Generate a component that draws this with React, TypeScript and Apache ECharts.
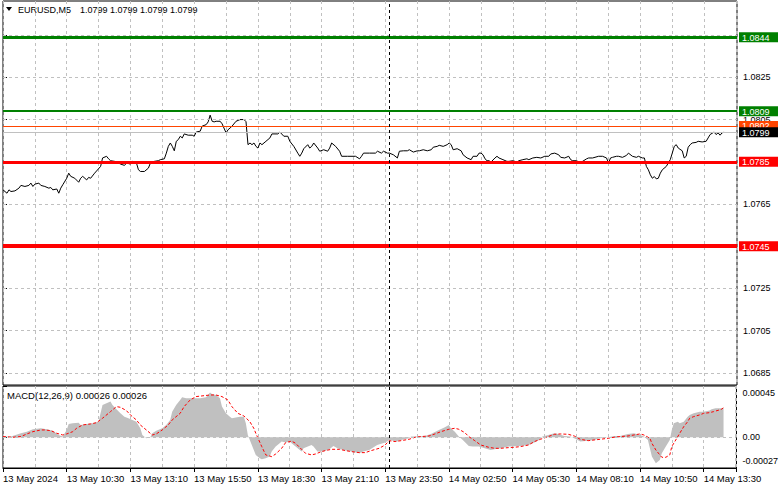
import React, { useEffect, useRef } from 'react';
import * as echarts from 'echarts';

const symbolName = 'EURUSD,M5';
const lastQuote = [1.0799, 1.0799, 1.0799, 1.0799];
const macdName = 'MACD(12,26,9)';
const macdLast = [0.00026, 0.00026];

const timeLabels = ['13 May 2024', '13 May 10:30', '13 May 13:10', '13 May 15:50', '13 May 18:30', '13 May 21:10', '13 May 23:50', '14 May 02:50', '14 May 05:30', '14 May 08:10', '14 May 10:50', '14 May 13:30'];
const barsPerLabel = 32;
const barsPerGrid = 16;
const daySeparatorBar = 194;

const priceTicks = [1.0685, 1.0705, 1.0725, 1.0745, 1.0765, 1.0785, 1.0805, 1.0825, 1.0845];
const priceTickLabels = [1.0685, 1.0705, 1.0725, 1.0765, 1.0805, 1.0825];
const levelValues = [1.0844, 1.0809, 1.0802, 1.0799, 1.0785, 1.0745];
const macdTicks = [0.00045, 0, -0.00027];

const priceBar = [0, 2, 3, 4, 6, 8, 9, 11, 13, 14, 15, 16, 18, 19, 21, 23, 24, 25, 27, 28, 29, 30, 32, 33, 34, 36, 38, 39, 40, 42, 43, 44, 46, 49, 50, 52, 53, 54, 56, 58, 59, 61, 62, 64, 65, 67, 68, 69, 71, 73, 74, 76, 78, 79, 81, 82, 83, 84, 85, 86, 87, 88, 89, 90, 91, 93, 95, 96, 97, 99, 100, 102, 103, 104, 105, 106, 107, 109, 110, 112, 113, 114, 115, 117, 119, 121, 122, 123, 124, 125, 126, 127, 128, 129, 130, 132, 134, 135, 138, 139, 141, 143, 144, 146, 148, 149, 150, 151, 153, 154, 155, 156, 158, 159, 161, 163, 164, 165, 167, 169, 170, 173, 177, 179, 180, 181, 184, 187, 188, 190, 191, 193, 194, 196, 198, 199, 201, 203, 204, 206, 208, 209, 211, 213, 215, 216, 218, 219, 221, 223, 224, 225, 226, 228, 230, 231, 233, 235, 236, 238, 239, 240, 241, 242, 243, 244, 245, 247, 248, 249, 251, 253, 254, 256, 258, 259, 261, 263, 264, 266, 268, 270, 272, 274, 275, 277, 279, 280, 282, 284, 285, 286, 288, 289, 291, 293, 294, 296, 299, 301, 303, 304, 305, 306, 308, 309, 311, 313, 314, 316, 318, 319, 321, 322, 323, 324, 325, 326, 327, 328, 329, 330, 331, 333, 334, 335, 336, 337, 338, 339, 341, 342, 343, 344, 345, 346, 348, 349, 351, 353, 354, 355, 357, 358, 359, 360, 361, 362];
const priceClose = [1.07717, 1.07701, 1.07717, 1.07709, 1.07712, 1.07725, 1.07738, 1.07733, 1.07738, 1.07749, 1.07733, 1.07744, 1.07749, 1.07738, 1.07733, 1.07725, 1.07728, 1.07717, 1.07721, 1.07701, 1.07725, 1.07741, 1.07772, 1.07796, 1.07781, 1.07772, 1.07753, 1.07772, 1.07781, 1.07764, 1.07776, 1.07772, 1.07796, 1.07828, 1.07868, 1.07876, 1.07864, 1.07855, 1.07852, 1.07844, 1.07839, 1.07833, 1.07844, 1.07839, 1.07852, 1.07844, 1.07812, 1.07804, 1.07804, 1.0782, 1.07844, 1.07852, 1.07855, 1.0786, 1.07864, 1.07891, 1.07923, 1.07939, 1.07923, 1.07902, 1.07947, 1.07955, 1.07971, 1.07963, 1.07982, 1.07976, 1.07976, 1.07971, 1.07991, 1.07995, 1.08019, 1.08026, 1.08039, 1.08071, 1.08042, 1.08039, 1.08042, 1.08042, 1.0803, 1.07987, 1.08002, 1.0801, 1.08019, 1.08042, 1.0805, 1.0805, 1.0804, 1.07931, 1.07939, 1.07931, 1.07939, 1.07923, 1.07915, 1.07939, 1.07931, 1.07947, 1.07963, 1.07982, 1.07982, 1.07991, 1.07971, 1.07971, 1.07947, 1.07923, 1.07891, 1.07876, 1.07891, 1.07912, 1.07931, 1.07915, 1.07923, 1.07939, 1.07915, 1.079, 1.07907, 1.079, 1.07915, 1.07939, 1.07923, 1.079, 1.07876, 1.07876, 1.07876, 1.07864, 1.07876, 1.07891, 1.07891, 1.07891, 1.079, 1.07891, 1.079, 1.07891, 1.07891, 1.07883, 1.07868, 1.079, 1.07902, 1.07902, 1.07907, 1.07896, 1.07902, 1.07902, 1.07907, 1.07902, 1.07907, 1.07919, 1.07923, 1.07928, 1.07923, 1.07931, 1.07939, 1.07931, 1.07907, 1.07912, 1.07902, 1.07883, 1.07868, 1.0786, 1.07876, 1.07876, 1.07891, 1.07891, 1.07883, 1.07864, 1.07855, 1.07855, 1.07849, 1.07868, 1.07876, 1.07868, 1.0786, 1.07852, 1.07852, 1.07855, 1.07849, 1.07855, 1.0786, 1.07864, 1.0786, 1.07868, 1.07871, 1.07868, 1.07876, 1.07876, 1.07887, 1.07891, 1.07883, 1.07871, 1.07868, 1.07876, 1.0786, 1.07855, 1.07855, 1.07849, 1.07852, 1.07864, 1.07868, 1.07868, 1.07876, 1.07876, 1.07868, 1.07844, 1.07868, 1.07871, 1.07876, 1.07876, 1.07871, 1.0788, 1.07891, 1.07876, 1.07871, 1.07876, 1.07868, 1.07868, 1.07828, 1.07812, 1.07788, 1.07772, 1.0778, 1.07769, 1.07772, 1.07796, 1.07812, 1.07828, 1.07844, 1.0786, 1.07891, 1.07923, 1.07931, 1.07915, 1.07902, 1.07868, 1.07876, 1.07919, 1.07931, 1.07939, 1.07942, 1.07947, 1.07944, 1.07947, 1.07963, 1.07979, 1.07991, 1.07979, 1.07987, 1.07976, 1.07987, 1.0799];

const histBar = [0, 4, 9, 12, 15, 19, 22, 25, 28, 30, 32, 33, 35, 38, 39, 42, 45, 48, 49, 50, 52, 54, 55, 57, 59, 61, 63, 65, 67, 69, 70, 72, 74, 75, 77, 80, 82, 84, 85, 87, 89, 90, 92, 99, 102, 104, 105, 107, 109, 110, 112, 114, 115, 119, 121, 122, 123, 124, 125, 127, 129, 130, 132, 134, 135, 137, 139, 140, 142, 144, 145, 147, 150, 151, 155, 156, 158, 161, 164, 166, 168, 171, 175, 179, 181, 184, 188, 192, 194, 198, 200, 204, 205, 209, 212, 215, 219, 222, 224, 225, 227, 229, 231, 234, 236, 239, 242, 245, 247, 250, 254, 260, 264, 267, 270, 271, 274, 277, 279, 282, 285, 288, 290, 294, 297, 300, 304, 307, 310, 314, 317, 320, 322, 324, 325, 326, 328, 330, 331, 333, 335, 336, 337, 339, 340, 342, 344, 345, 347, 350, 352, 355, 356, 358, 361, 362];
const histValue = [0.6e-5, 0.6e-5, 3.5e-5, 4.9e-5, 7.0e-5, 7.9e-5, 7.0e-5, 5.8e-5, 2.0e-5, 0.6e-5, 6.4e-5, 11.7e-5, 12.3e-5, 12.8e-5, 10.8e-5, 11.7e-5, 12.3e-5, 13.7e-5, 21.0e-5, 28.4e-5, 29.8e-5, 31.3e-5, 28.4e-5, 24.6e-5, 21.0e-5, 18.1e-5, 16.7e-5, 15.2e-5, 13.7e-5, 7.9e-5, 2.0e-5, -0.9e-5, 0, 3.5e-5, 5.8e-5, 7.9e-5, 10.8e-5, 15.2e-5, 22.5e-5, 28.4e-5, 32.7e-5, 35.1e-5, 34.2e-5, 34.2e-5, 35.1e-5, 39.2e-5, 38.0e-5, 37.1e-5, 34.2e-5, 26.9e-5, 21.0e-5, 18.1e-5, 16.7e-5, 18.1e-5, 18.1e-5, 12.3e-5, 2.0e-5, -2.4e-5, -6.8e-5, -15.5e-5, -18.5e-5, -19.3e-5, -18.5e-5, -17.0e-5, -12.6e-5, -8.2e-5, -5.3e-5, -3.8e-5, -4.7e-5, -3.8e-5, -5.3e-5, -8.2e-5, -12.6e-5, -9.7e-5, -6.8e-5, -8.2e-5, -12.6e-5, -12.6e-5, -10.6e-5, -7.6e-5, -9.7e-5, -11.2e-5, -12.6e-5, -14.1e-5, -12.6e-5, -11.2e-5, -6.8e-5, -4.7e-5, -2.4e-5, -3.8e-5, -2.4e-5, -0.9e-5, 0.6e-5, 0.6e-5, 1.1e-5, 2.9e-5, 6.4e-5, 8.8e-5, 10.8e-5, 7.9e-5, 4.9e-5, 0.6e-5, -2.4e-5, -7.6e-5, -8.2e-5, -8.2e-5, -9.7e-5, -11.2e-5, -10.6e-5, -9.7e-5, -8.2e-5, -7.6e-5, -6.8e-5, -4.7e-5, -1.8e-5, 0.6e-5, 2.0e-5, 3.5e-5, 2.9e-5, 1.1e-5, 0.6e-5, -1.8e-5, -3.8e-5, -3.0e-5, -2.4e-5, -0.9e-5, 0, 1.1e-5, 1.1e-5, 2.9e-5, 3.5e-5, 2.0e-5, 0.6e-5, -2.4e-5, -9.7e-5, -17.0e-5, -22.9e-5, -19.9e-5, -14.1e-5, -8.2e-5, -2.4e-5, 6.4e-5, 12.3e-5, 13.7e-5, 12.3e-5, 13.7e-5, 18.1e-5, 19.6e-5, 21.0e-5, 22.5e-5, 22.5e-5, 23.4e-5, 24.6e-5, 25.4e-5, 25.4e-5, 26.0e-5];

const signalBar = [0, 5, 9, 12, 15, 19, 21, 24, 27, 30, 32, 35, 37, 40, 44, 47, 50, 54, 57, 59, 62, 64, 67, 69, 72, 75, 77, 80, 83, 85, 89, 91, 94, 97, 100, 104, 107, 110, 113, 115, 118, 121, 124, 126, 127, 130, 132, 135, 137, 140, 142, 145, 147, 150, 152, 155, 157, 160, 162, 165, 169, 172, 175, 179, 182, 185, 189, 192, 194, 197, 200, 204, 207, 210, 214, 217, 220, 224, 227, 229, 232, 234, 237, 240, 244, 247, 250, 254, 257, 260, 264, 267, 270, 274, 277, 280, 284, 287, 290, 294, 297, 300, 304, 307, 310, 314, 317, 320, 322, 325, 326, 328, 330, 331, 333, 335, 336, 338, 340, 342, 344, 345, 347, 350, 352, 355, 357, 360, 361, 362];
const signalValue = [0.6e-5, 0, 0.6e-5, 2.9e-5, 4.9e-5, 6.4e-5, 6.4e-5, 5.8e-5, 3.5e-5, 2.0e-5, 2.9e-5, 4.9e-5, 7.9e-5, 10.8e-5, 11.7e-5, 12.8e-5, 16.7e-5, 22.5e-5, 26.9e-5, 26.3e-5, 23.4e-5, 19.6e-5, 15.2e-5, 10.8e-5, 6.4e-5, 2.0e-5, 2.9e-5, 6.4e-5, 10.8e-5, 15.2e-5, 21.0e-5, 26.9e-5, 32.7e-5, 35.7e-5, 36.3e-5, 37.1e-5, 37.1e-5, 35.7e-5, 32.7e-5, 26.9e-5, 21.0e-5, 18.7e-5, 13.7e-5, 7.9e-5, 3.5e-5, -8.2e-5, -15.5e-5, -17.0e-5, -14.7e-5, -9.7e-5, -4.7e-5, -3.4e-5, -5.3e-5, -10.6e-5, -14.1e-5, -15.5e-5, -14.7e-5, -12.6e-5, -11.7e-5, -10.6e-5, -10.6e-5, -11.7e-5, -12.6e-5, -13.5e-5, -13.5e-5, -11.7e-5, -9.7e-5, -6.8e-5, -3.0e-5, -3.8e-5, -3.0e-5, -1.8e-5, 0, 0.6e-5, 1.1e-5, 2.9e-5, 4.9e-5, 7.0e-5, 7.9e-5, 7.0e-5, 4.1e-5, 0.6e-5, -3.0e-5, -6.8e-5, -8.8e-5, -9.7e-5, -9.7e-5, -9.1e-5, -8.8e-5, -8.2e-5, -6.8e-5, -3.8e-5, -1.8e-5, 0.6e-5, 2.6e-5, 2.9e-5, 2.6e-5, 1.1e-5, -1.8e-5, -3.0e-5, -2.4e-5, -1.8e-5, -0.9e-5, 0, 0.6e-5, 1.1e-5, 2.0e-5, 2.9e-5, 2.0e-5, -0.9e-5, -5.3e-5, -11.2e-5, -15.5e-5, -17.6e-5, -17.6e-5, -15.5e-5, -8.2e-5, -2.4e-5, 3.5e-5, 9.3e-5, 13.7e-5, 16.7e-5, 18.1e-5, 19.6e-5, 21.0e-5, 21.6e-5, 22.5e-5, 24.0e-5, 24.6e-5, 26.0e-5];

const FONT = "'Liberation Sans', Arial, sans-serif";
const FS = 9.5;
const FS_NUM = 9;
const X_MAX = 368.5;
const PRICE_MIN = 1.06792;
const PRICE_MAX = 1.08612;
const MACD_MIN = -0.00027;
const MACD_MAX = 0.00045;

const levelStyles = [
  { line: '#008000', width: 3, box: '#008000', text: '#ffffff' },
  { line: '#008000', width: 2, box: '#008000', text: '#ffffff' },
  { line: '#ff4500', width: 1, box: '#ff4500', text: '#ffffff' },
  { line: '#c0c0c0', width: 1, box: '#000000', text: '#ffffff' },
  { line: '#ff0000', width: 3, box: '#ff0000', text: '#ffffff' },
  { line: '#ff0000', width: 4, box: '#ff0000', text: '#ffffff' },
];

const gridDash = { color: '#c0c0c0', type: [3, 3] as number[], width: 1 };

function levelIndex(v: number) {
  return levelValues.findIndex((l) => Math.abs(l - v) < 1e-7);
}

export default function App() {
  const ref = useRef<HTMLDivElement>(null);
  useEffect(() => {
    if (!ref.current) return;
    const chart = echarts.init(ref.current, undefined, { renderer: 'svg' });

    const rich: Record<string, any> = {};
    levelStyles.forEach((s, i) => {
      rich['l' + i] = {
        backgroundColor: s.box,
        color: s.text,
        fontSize: FS_NUM,
        fontFamily: FONT,
        lineHeight: 10,
        width: 36,
        padding: [1, 0, 0, 3],
      };
    });

    const macdFormat = (v: number) => {
      if (Math.abs(v) < 1e-12) return '0.00';
      const txt = v.toFixed(5);
      if (v > 0) return '{t|' + txt + '}';
      return '{b|' + txt + '}';
    };

    const xSplitAxis = (gridIndex: number) => ({
      gridIndex,
      type: 'value',
      min: 0,
      max: X_MAX,
      interval: barsPerGrid,
      position: 'bottom',
      axisLine: { show: false, onZero: false },
      axisTick: { show: false },
      axisLabel: { show: false },
      splitLine: { show: true, lineStyle: gridDash },
    });

    const quoteTexts = lastQuote.map((v, i) => ({
      type: 'text',
      left: 80 + i * 30,
      top: 5,
      style: { text: v.toFixed(4), fill: '#000', fontSize: FS_NUM, fontFamily: FONT },
    }));

    const option: any = {
      animation: false,
      backgroundColor: '#ffffff',
      textStyle: { fontFamily: FONT, fontSize: FS },
      grid: [
        { left: 3, top: 1, width: 737, height: 384, show: true, borderColor: '#000', borderWidth: 1, backgroundColor: '#fff' },
        { left: 3, top: 386, width: 737, height: 82, show: true, borderColor: '#000', borderWidth: 1, backgroundColor: '#fff' },
      ],
      xAxis: [
        xSplitAxis(0),
        xSplitAxis(1),
        {
          gridIndex: 1,
          type: 'value',
          min: 0,
          max: X_MAX,
          interval: barsPerLabel,
          position: 'bottom',
          axisLine: { show: true, onZero: false, lineStyle: { color: '#000', width: 1 } },
          axisTick: { show: true, length: 4, lineStyle: { color: '#000' } },
          axisLabel: {
            show: true,
            align: 'left',
            margin: 5,
            color: '#000',
            fontSize: FS,
            fontFamily: FONT,
            hideOverlap: false,
            formatter: (v: number) => {
              const k = v / barsPerLabel;
              return Number.isInteger(k) && timeLabels[k] ? timeLabels[k] : '';
            },
          },
          splitLine: { show: false },
        },
      ],
      yAxis: [
        {
          gridIndex: 0,
          type: 'value',
          position: 'right',
          min: PRICE_MIN,
          max: PRICE_MAX,
          axisLine: { show: false },
          axisTick: { show: true, customValues: priceTicks, length: 4, lineStyle: { color: '#000' } },
          axisLabel: {
            customValues: priceTickLabels,
            margin: 6,
            color: '#000',
            fontSize: FS_NUM,
            fontFamily: FONT,
            formatter: (v: number) => v.toFixed(4),
          },
          splitLine: { show: false },
        },
        {
          gridIndex: 0,
          type: 'value',
          position: 'right',
          min: PRICE_MIN,
          max: PRICE_MAX,
          axisLine: { show: false },
          axisTick: { show: false },
          axisLabel: {
            customValues: levelValues,
            margin: 2,
            rich,
            formatter: (v: number) => {
              const i = levelIndex(v);
              return i >= 0 ? '{l' + i + '|' + v.toFixed(4) + '}' : '';
            },
          },
          splitLine: { show: false },
        },
        {
          gridIndex: 1,
          type: 'value',
          position: 'right',
          min: MACD_MIN,
          max: MACD_MAX,
          axisLine: { show: false },
          axisTick: { show: true, customValues: macdTicks, length: 4, lineStyle: { color: '#000' } },
          axisLabel: {
            customValues: macdTicks,
            margin: 6,
            color: '#000',
            fontSize: FS_NUM,
            fontFamily: FONT,
            formatter: macdFormat,
            rich: {
              t: { fontSize: FS_NUM, fontFamily: FONT, color: '#000', padding: [14, 0, 0, 0] },
              b: { fontSize: FS_NUM, fontFamily: FONT, color: '#000', padding: [0, 0, 14, 0] },
            },
          },
          splitLine: { show: false },
        },
      ],
      graphic: [
        { type: 'polygon', shape: { points: [[6, 7], [12, 7], [9, 11]] }, style: { fill: '#000' } },
        {
          type: 'text',
          left: 18,
          top: 5,
          style: { text: symbolName, fill: '#000', fontSize: 9, fontFamily: FONT },
        },
        ...quoteTexts,
        {
          type: 'text',
          left: 7,
          top: 390,
          style: {
            text: macdName + ' ' + macdLast.map((v) => v.toFixed(5)).join(' '),
            fill: '#000',
            fontSize: FS,
            fontFamily: FONT,
          },
        },
      ],
      series: [
        {
          type: 'line',
          xAxisIndex: 0,
          yAxisIndex: 0,
          data: priceBar.map((b, i) => [b, priceClose[i]]),
          symbol: 'none',
          lineStyle: { color: '#000', width: 1 },
          z: 3,
          markLine: {
            silent: true,
            precision: 6,
            symbol: ['none', 'none'],
            label: { show: false },
            data: [
              ...priceTicks.map((v) => ({ yAxis: v, lineStyle: gridDash })),
              ...levelValues.map((v, i) => ({
                yAxis: v,
                lineStyle: { color: levelStyles[i].line, width: levelStyles[i].width, type: 'solid' },
              })),
              { xAxis: daySeparatorBar, lineStyle: { color: '#000', width: 1, type: [3, 3] } },
            ],
          },
        },
        {
          type: 'line',
          xAxisIndex: 1,
          yAxisIndex: 2,
          data: histBar.map((b, i) => [b, histValue[i]]),
          symbol: 'none',
          lineStyle: { width: 0 },
          areaStyle: { color: '#c0c0c0', opacity: 1 },
          markLine: {
            silent: true,
            precision: 8,
            symbol: ['none', 'none'],
            label: { show: false },
            data: [
              { yAxis: 0, lineStyle: gridDash },
              { xAxis: daySeparatorBar, lineStyle: { color: '#000', width: 1, type: [3, 3] } },
            ],
          },
        },
        {
          type: 'line',
          xAxisIndex: 1,
          yAxisIndex: 2,
          data: signalBar.map((b, i) => [b, signalValue[i]]),
          symbol: 'none',
          lineStyle: { color: '#ff0000', width: 1, type: [3, 2] },
        },
      ],
    };

    chart.setOption(option);
    return () => chart.dispose();
  }, []);

  return <div ref={ref} style={{ position: 'fixed', left: 0, top: 0, width: 781, height: 489 }} />;
}
